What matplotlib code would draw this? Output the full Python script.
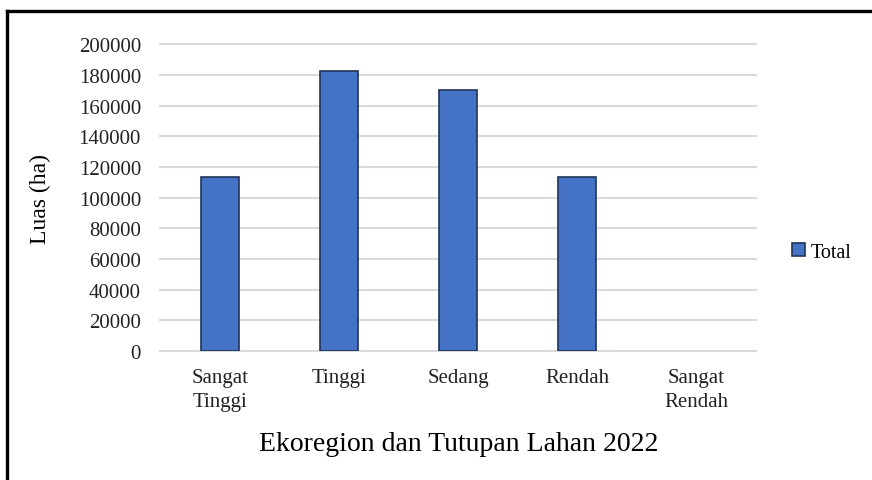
import matplotlib
matplotlib.use('Agg')
import matplotlib.pyplot as plt
from matplotlib.lines import Line2D

categories = ['Sangat\nTinggi', 'Tinggi', 'Sedang', 'Rendah', 'Sangat\nRendah']
total = [113500, 182500, 170000, 113500, 0]
yticks = [0, 20000, 40000, 60000, 80000, 100000, 120000, 140000, 160000, 180000, 200000]

plt.rcParams['font.family'] = ['Liberation Serif', 'DejaVu Serif']

fig = plt.figure(figsize=(8.72, 4.81), dpi=100)
ax = fig.add_axes([0.184, 0.268, 0.683, 0.638])

x = range(len(categories))
# empty categories get no outline, so nothing shows on the baseline
edges = ['#1F3459' if v > 0 else 'none' for v in total]
ax.bar(x, total, width=0.32, color='#4472C4', edgecolor=edges,
       linewidth=1.2, label='Total', zorder=3)

ax.set_xlim(-0.5, len(categories) - 0.5)
ax.set_ylim(0, 200000)
ax.set_yticks(yticks)
ax.set_yticklabels([str(v) for v in yticks])
ax.set_xticks(list(x))
ax.set_xticklabels(categories, linespacing=1.4)
ax.tick_params(axis='both', length=0, labelsize=15, colors='#222222')
ax.tick_params(axis='x', pad=12)
ax.tick_params(axis='y', pad=14)
ax.grid(axis='y', color='#D9D9D9', linewidth=1.5, zorder=0)
ax.set_axisbelow(True)
for s in ax.spines.values():
    s.set_visible(False)
for gl in ax.get_ygridlines():
    gl.set_clip_on(False)

ax.set_ylabel('Luas (ha)', fontsize=17, labelpad=20)
ax.set_xlabel('Ekoregion dan Tutupan Lahan 2022', fontsize=20, labelpad=14)

leg = fig.legend(loc='center left', bbox_to_anchor=(0.888, 0.474), frameon=False,
                 fontsize=14.5, handlelength=0.6, handleheight=0.6, handletextpad=0.3)

# frame around the figure (top and left edges)
fig.add_artist(Line2D([0.0075, 1.0], [0.976, 0.976], color='black', linewidth=2.4,
                      transform=fig.transFigure))
fig.add_artist(Line2D([0.0086, 0.0086], [0.0, 0.976], color='black', linewidth=2.4,
                      transform=fig.transFigure))

fig.savefig('out.png', dpi=100, facecolor='white')
